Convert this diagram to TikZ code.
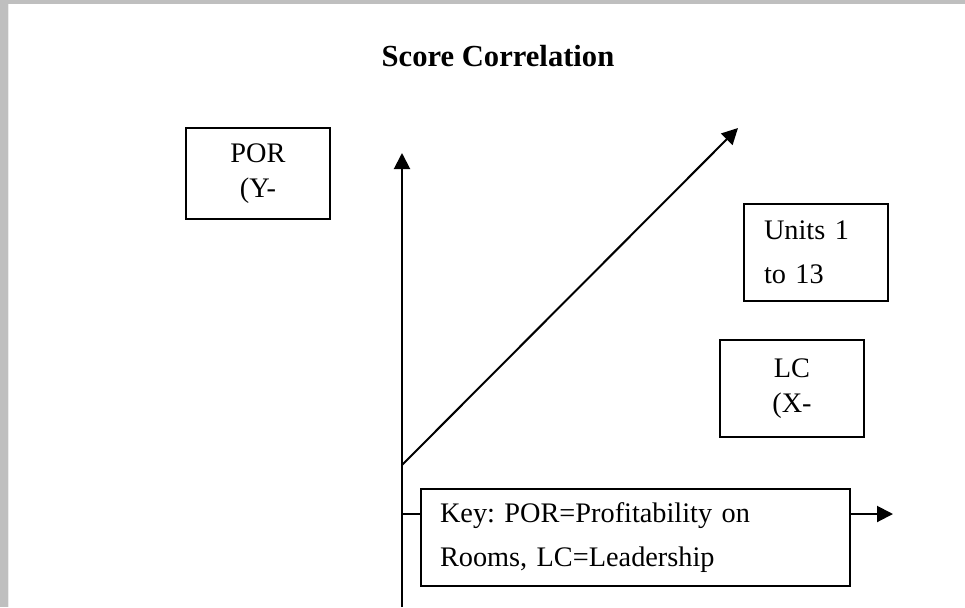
\documentclass[tikz,border=0pt]{standalone}
\usepackage{fontspec}
\setmainfont{Liberation Serif}
\usetikzlibrary{arrows.meta}

\tikzset{
  boxc/.style={draw, line width=1pt, fill=white, align=center,
    minimum width=72pt, minimum height=48.5pt, inner sep=0pt,
    font=\fontsize{14.15}{17.5}\selectfont},
  boxl/.style={draw, line width=1pt, fill=white, align=left,
    inner xsep=10pt, inner ysep=0pt, minimum height=48.5pt,
    font=\fontsize{14.15}{22}\selectfont\frenchspacing}
}

\begin{document}
\begin{tikzpicture}[x=0.5pt,y=-0.5pt]
	\useasboundingbox (0,0) rectangle (965,607);
	\fill[white] (0,0) rectangle (965,607);
	% grey page edge
	\fill[gray!50] (0,0) rectangle (965,4);
	\fill[gray!50] (0,0) rectangle (8,607);
	\draw[gray!15, line width=0.5pt] (8.5,4) -- (8.5,607);

	\node[anchor=base, font=\fontsize{15.3}{18}\selectfont\bfseries] (t0) at (498, 66) {Score Correlation};

	\coordinate (ybot) at (402, 607);
	\coordinate (ytop) at (402, 153);
	\coordinate (d0) at (402, 465);
	\coordinate (d1) at (738, 128);
	\coordinate (x0) at (402, 514);
	\coordinate (x1) at (893, 514);

	\begin{scope}[every path/.style={line width=1pt, -{Triangle[length=8pt,width=8pt]}}]
		\draw (ybot) -- (ytop);
		\draw (d0) -- (d1);
		\draw (x0) -- (x1);
	\end{scope}

	\node[boxc, minimum height=45.5pt] (b1) at (258, 173.5) {POR\\(Y-};
	\node[boxl, text width=52pt, inner xsep=10pt] (b2) at (816, 252.5) {Units 1\\to 13};
	\node[boxc] (b3) at (792, 388.5) {LC\\(X-};
	\node[boxl, text width=195.5pt, inner xsep=9.5pt] (b4) at (635.5, 537.5) {Key: POR=Profitability on\\Rooms, LC=Leadership};
\end{tikzpicture}
\end{document}
